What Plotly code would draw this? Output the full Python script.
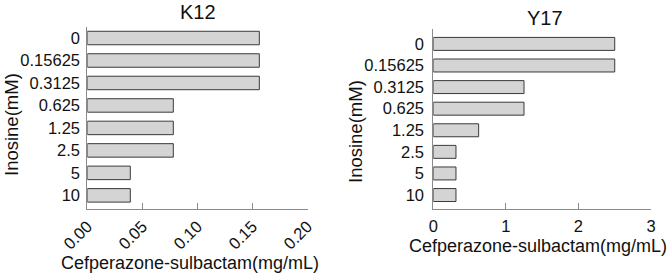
import plotly.graph_objects as go

categories = ["0", "0.15625", "0.3125", "0.625", "1.25", "2.5", "5", "10"]
k12_values = [0.15625, 0.15625, 0.15625, 0.078125, 0.078125, 0.078125, 0.0390625, 0.0390625]
y17_values = [2.5, 2.5, 1.25, 1.25, 0.625, 0.3125, 0.3125, 0.3125]
k12_xticks = [0.0, 0.05, 0.10, 0.15, 0.20]
k12_xticklabels = ["0.00", "0.05", "0.10", "0.15", "0.20"]
y17_xticks = [0, 1, 2, 3]
y17_xticklabels = ["0", "1", "2", "3"]

W, H = 671, 276
FONT = "Liberation Sans, Arial, sans-serif"
BAR_FILL = "#d4d4d4"
BAR_LINE = "#3a3a3a"
AXIS = "#8a8a8a"

def px_x(p):
    return p / W

def px_y(p):
    return 1 - p / H

fig = go.Figure()
fig.add_trace(go.Bar(x=k12_values, y=categories, orientation="h", width=0.6,
                     marker=dict(color=BAR_FILL, line=dict(color=BAR_LINE, width=1)),
                     xaxis="x", yaxis="y", showlegend=False, hoverinfo="skip"))
fig.add_trace(go.Bar(x=y17_values, y=categories, orientation="h", width=0.6,
                     marker=dict(color=BAR_FILL, line=dict(color=BAR_LINE, width=1)),
                     xaxis="x2", yaxis="y2", showlegend=False, hoverinfo="skip"))

tickfont = dict(family=FONT, size=16.5, color="#111111")
common_x = dict(showline=True, linecolor=AXIS, linewidth=1, ticks="inside", ticklen=6,
                tickcolor=AXIS, tickwidth=1, showgrid=False, zeroline=False,
                tickfont=tickfont, fixedrange=True, automargin=False)
common_y = dict(showline=True, linecolor=AXIS, linewidth=1, ticks="", showgrid=False,
                zeroline=False, tickfont=tickfont, type="category", fixedrange=True,
                automargin=False, tickmode="array", tickvals=categories, ticktext=categories)

fig.update_layout(
    width=W, height=H,
    margin=dict(l=0, r=0, t=0, b=0),
    paper_bgcolor="white", plot_bgcolor="white",
    bargap=0.4,
    xaxis=dict(domain=[px_x(87.3), px_x(307.5)], range=[0, 0.2], tickvals=k12_xticks,
               ticktext=k12_xticklabels, tickangle=-45, anchor="y", **common_x),
    yaxis=dict(domain=[px_y(209.3), px_y(27)], range=[7.62, -0.49], anchor="x",
               ticklabelstandoff=3, **common_y),
    xaxis2=dict(domain=[px_x(433.3), px_x(651)], range=[0, 3], tickvals=y17_xticks,
                ticktext=y17_xticklabels, anchor="y2", ticklabelstandoff=2, **common_x),
    yaxis2=dict(domain=[px_y(209.3), px_y(29)], range=[7.66, -0.69], anchor="x2",
                ticklabelstandoff=5, **common_y),
)

annots = [
    dict(text="K12", x=px_x(198), y=px_y(12.5), size=20),
    dict(text="Y17", x=px_x(545), y=px_y(18), size=20),
    dict(text="Cefperazone-sulbactam(mg/mL)", x=px_x(190), y=px_y(263), size=18),
    dict(text="Cefperazone-sulbactam(mg/mL)", x=px_x(538), y=px_y(246), size=18),
    dict(text="Inosine(mM)", x=px_x(11), y=px_y(125), size=18.5, angle=-90),
    dict(text="Inosine(mM)", x=px_x(355), y=px_y(132), size=18.5, angle=-90),
]
for a in annots:
    fig.add_annotation(text=a["text"], x=a["x"], y=a["y"], xref="paper", yref="paper",
                       xanchor="center", yanchor="middle", showarrow=False,
                       textangle=a.get("angle", 0),
                       font=dict(family=FONT, size=a["size"], color="#111111"))

# remove the browser's default 8px body margin so the figure fills the window exactly
fig.write_html("out.html", config={"displayModeBar": False, "staticPlot": True},
               post_script="document.body.style.margin='0px';document.body.style.overflow='hidden';")
